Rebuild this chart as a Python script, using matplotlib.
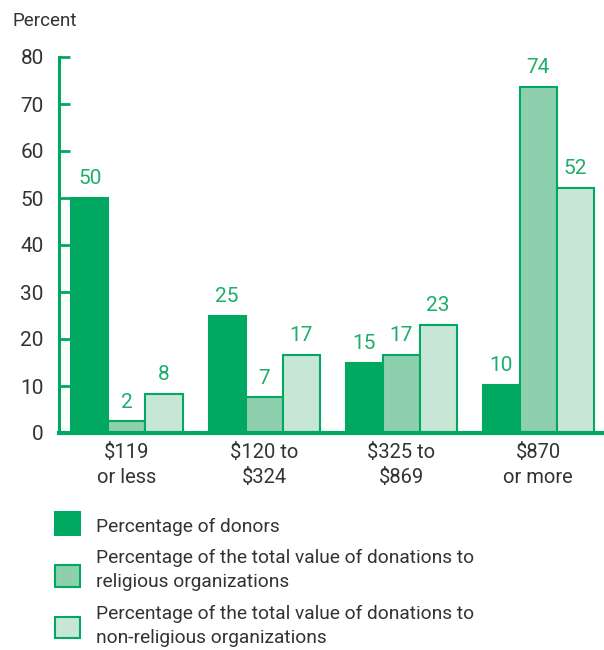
import matplotlib
matplotlib.use("Agg")
import matplotlib.pyplot as plt
from matplotlib.patches import Rectangle
import numpy as np

plt.rcParams['font.family'] = ['Roboto', 'DejaVu Sans']

categories = ["$119\nor less", "$120 to\n$324", "$325 to\n$869", "$870\nor more"]
donors = [50, 25, 15, 10.2]
religious = [2.5, 7.6, 16.6, 73.6]
non_religious = [8.4, 16.6, 23, 52.1]
donors_lbl = ["50", "25", "15", "10"]
religious_lbl = ["2", "7", "17", "74"]
non_religious_lbl = ["8", "17", "23", "52"]
legend_labels = ["Percentage of donors",
                 "Percentage of the total value of donations to\nreligious organizations",
                 "Percentage of the total value of donations to\nnon-religious organizations"]

GREEN = "#00A862"
MED = "#8ED0AE"
LIGHT = "#C8E6D5"
TXT = "#333333"
LBL = "#1DAE6B"

W, H = 604, 650
fig = plt.figure(figsize=(W/100, H/100), dpi=100)
ax = fig.add_axes([59/W, 1-433/H, (604-59)/W, (433-57)/H])

x = np.arange(len(categories))
bw = 0.27
series = [(donors, donors_lbl, GREEN), (religious, religious_lbl, MED), (non_religious, non_religious_lbl, LIGHT)]
for i, (vals, lbls, col) in enumerate(series):
    pos = x + (i - 1) * bw
    ax.bar(pos, vals, width=bw, color=col, edgecolor=GREEN, linewidth=1.5, zorder=2)
    for p, v, l in zip(pos, vals, lbls):
        ax.annotate(l, (p, v), xytext=(0, 7), textcoords="offset points",
                    ha="center", va="bottom", color=LBL, fontsize=15)

ax.set_xlim(-0.496, 3.48)
ax.set_ylim(0, 80)
ax.set_yticks(range(0, 81, 10))
ax.set_xticks(x)
ax.set_xticklabels(categories, fontsize=14.5, color=TXT, linespacing=1.45)
ax.tick_params(axis='x', length=0, pad=7)
ax.tick_params(axis='y', direction='in', length=8, width=2, color=GREEN,
               labelsize=15, labelcolor=TXT, pad=11)
for s in ['top', 'right']:
    ax.spines[s].set_visible(False)
ax.spines['left'].set_color(GREEN)
ax.spines['left'].set_linewidth(2.2)
ax.spines['bottom'].set_color(GREEN)
ax.spines['bottom'].set_linewidth(3)

fig.text(12/W, 1-21/H, "Percent", fontsize=13.5, color=TXT, ha="left", va="center")

# Legend
sq = [(512, 535), (565, 587), (617, 638)]
cols = [GREEN, MED, LIGHT]
texty = [527, 570, 626]
for (y0, y1), c, ty, lab in zip(sq, cols, texty, legend_labels):
    fig.patches.append(Rectangle((55/W, 1-y1/H), 25/W, (y1-y0)/H, transform=fig.transFigure,
                                 facecolor=c, edgecolor=GREEN, linewidth=1.5))
    fig.text(96/W, 1-ty/H, lab, fontsize=13.8, color=TXT, ha="left", va="center", linespacing=1.38)

fig.savefig("out.png", dpi=100)
